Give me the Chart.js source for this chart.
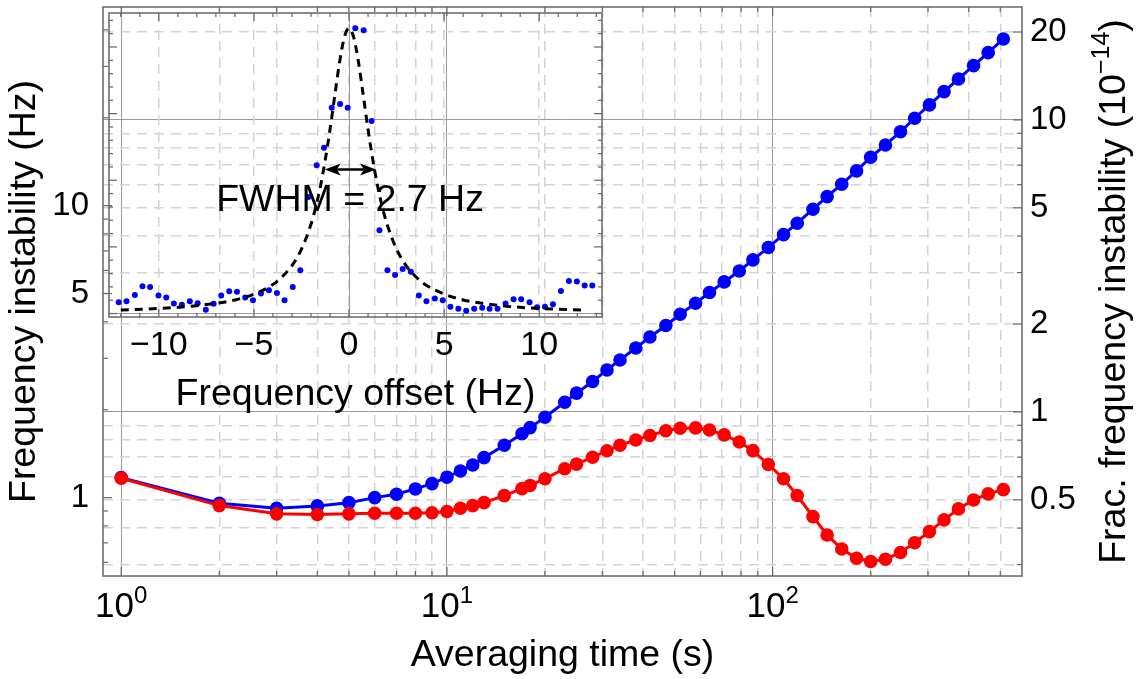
<!DOCTYPE html>
<html>
<head>
<meta charset="utf-8">
<script src="https://cdn.jsdelivr.net/npm/chart.js@4.4.0/dist/chart.umd.min.js"></script>
<style>
  html, body { margin: 0; padding: 0; background: #fff; }
  #wrap { position: relative; width: 1143px; height: 679px; }
  #main, #inset { position: absolute; left: 0; top: 0; }
</style>
</head>
<body>
<div id="wrap">
  <canvas id="main" width="1143" height="679"></canvas>
  <canvas id="inset" width="620" height="430"></canvas>
</div>
<script>
// ---- main plot: Allan deviation vs averaging time ----
const tau = [1, 2, 3, 4, 5, 6, 7, 8, 9, 10, 11, 12, 13, 15, 17, 18, 20, 23, 25, 28,
  31, 34, 38, 42, 47, 52, 58, 64, 71, 79, 87, 97, 108, 119, 133, 147, 163, 181, 200, 222,
  247, 273, 303, 336, 372, 414, 459, 511];
const blueDev = [1.171, 0.957, 0.920, 0.937, 0.961, 1.000, 1.027, 1.071, 1.117, 1.175,
  1.234, 1.294, 1.371, 1.512, 1.655, 1.737, 1.885, 2.122, 2.279, 2.500,
  2.737, 2.962, 3.256, 3.550, 3.888, 4.247, 4.632, 5.043, 5.480, 5.975,
  6.518, 7.193, 7.956, 8.706, 9.721, 10.74, 11.84, 13.15, 14.65, 16.14,
  17.92, 19.92, 22.13, 24.57, 27.16, 30.17, 33.42, 37.23];
const redDev = [1.165, 0.939, 0.880, 0.875, 0.880, 0.884, 0.884, 0.884, 0.888, 0.896,
  0.920, 0.939, 0.961, 1.016, 1.074, 1.101, 1.161, 1.256, 1.302, 1.375,
  1.447, 1.512, 1.576, 1.633, 1.695, 1.729, 1.733, 1.705, 1.640, 1.551,
  1.449, 1.299, 1.161, 1.017, 0.861, 0.745, 0.667, 0.620, 0.604, 0.615,
  0.649, 0.701, 0.765, 0.839, 0.915, 0.982, 1.030, 1.065];

// axis ticks (grid at every tick, labels only where listed)
const xGridTicks = [1, 2, 3, 4, 5, 6, 7, 8, 9, 10, 20, 30, 40, 50, 60, 70, 80, 90, 100, 200, 300, 400, 500];
const xLabelTicks = [1, 10, 100];
const hzTicks = [0.6, 0.7, 0.8, 0.9, 1, 2, 3, 4, 5, 6, 7, 8, 9, 10, 20, 30, 40];
const hzLabels = [1, 5, 10];
const fracTicks = [0.3, 0.4, 0.5, 0.6, 0.7, 0.8, 0.9, 1, 2, 3, 4, 5, 6, 7, 8, 9, 10, 20];
const fracLabels = [0.5, 1, 2, 5, 10, 20];

// ---- inset: beat note spectrum ----
const offsetHz = [-12.11, -11.70, -11.26, -10.86, -10.46, -10.02, -9.61, -9.21, -8.79, -8.37,
  -7.96, -7.53, -7.12, -6.72, -6.30, -5.89, -5.46, -5.05, -4.63, -4.21,
  -3.79, -3.39, -2.96, -2.56, -2.14, -1.70, -1.32, -0.91, -0.47, -0.07,
  0.33, 0.77, 1.19, 1.60, 2.02, 2.42, 2.82, 3.25, 3.67, 4.07,
  4.51, 4.93, 5.33, 5.75, 6.16, 6.58, 7.00, 7.39, 7.81, 8.23,
  8.65, 9.05, 9.49, 9.89, 10.30, 10.72, 11.14, 11.56, 11.98, 12.39, 12.79];
const power = [0.85, 0.93, 1.40, 2.05, 2.00, 1.35, 1.20, 0.75, 0.65, 0.93,
  0.78, 0.28, 0.73, 1.35, 1.68, 1.63, 1.20, 1.00, 1.50, 1.75,
  1.55, 1.00, 2.00, 3.25, 8.75, 11.13, 12.43, 15.45, 15.73, 15.45,
  21.40, 21.25, 14.45, 6.25, 3.25, 2.90, 3.35, 3.13, 1.35, 0.93,
  1.13, 1.00, 0.50, 0.35, 0.20, 0.35, 0.43, 0.35, 0.35, 0.75,
  1.08, 1.08, 0.85, 0.48, 0.50, 0.70, 1.70, 2.45, 2.40, 2.10, 2.10];
const fitOffsetHz = [-12, -10, -8, -6, -5, -4, -3.5, -3, -2.5, -2, -1.75, -1.5, -1.25, -1, -0.75,
  -0.5, -0.25, 0, 0.25, 0.5, 0.75, 1, 1.25, 1.5, 1.75, 2, 2.5, 3, 3.5, 4, 5, 6, 8, 10, 12.4];
const fitPower = [0.27, 0.38, 0.59, 1.02, 1.46, 2.18, 2.78, 3.60, 4.83, 6.70, 7.98, 9.57, 11.53, 13.81, 16.35,
  18.83, 20.70, 21.41, 20.70, 18.83, 16.35, 13.81, 11.53, 9.57, 7.98, 6.70, 4.83, 3.60, 2.78, 2.18,
  1.46, 1.02, 0.59, 0.38, 0.26];
const offsetLabels = [-10, -5, 0, 5, 10];
const fwhmSpan = [-1.28, 1.42];
const fwhmLevel = 10.8;

const FONT = '"Liberation Sans", Arial, Helvetica, sans-serif';
const TITLE_SIZE = 37.5;
const TICK_SIZE = 33;
const HZ_PER_FRAC = 1.966;          // 1e-14 fractional ↔ Hz
const X_RANGE = [0.879, 583];
const Y_RANGE = [0.539, 47.9];

function isDecade(v) {
  if (v === undefined || v === null) return false;
  const l = Math.log10(v);
  return Math.abs(l - Math.round(l)) < 1e-9;
}

function seg(ctx, x1, y1, x2, y2) {
  ctx.beginPath();
  ctx.moveTo(x1, y1);
  ctx.lineTo(x2, y2);
  ctx.stroke();
}

// fixed box sizes, no label overflow padding
function fixBox(size) {
  return s => {
    if (s.isHorizontal()) s.height = size; else s.width = size;
    s.paddingTop = 0; s.paddingBottom = 0; s.paddingLeft = 0; s.paddingRight = 0;
  };
}

const gridColor = c => isDecade(c.tick && c.tick.value) ? '#9a9a9a' : '#d4d4d4';
const gridWidth = c => isDecade(c.tick && c.tick.value) ? 1 : 1.5;
const gridDash = c => (c.tick && !isDecade(c.tick.value)) ? [10, 7] : [];

const mainFrame = {
  id: 'mainFrame',
  afterDraw(chart) {
    const { ctx, chartArea: a, scales: { x, y, y2 } } = chart;
    ctx.save();
    ctx.strokeStyle = '#666';
    ctx.lineWidth = 1.5;
    ctx.strokeRect(a.left, a.top, a.width, a.height);

    ctx.lineWidth = 1.2;
    xGridTicks.forEach(v => {
      const px = x.getPixelForValue(v);
      const len = isDecade(v) ? 9 : 5;
      seg(ctx, px, a.bottom, px, a.bottom - len);
      seg(ctx, px, a.top, px, a.top + len);
    });
    hzTicks.forEach(v => {
      const py = y.getPixelForValue(v);
      const len = hzLabels.includes(v) ? 9 : 5;
      seg(ctx, a.left, py, a.left + len, py);
    });
    fracTicks.forEach(v => {
      const py = y2.getPixelForValue(v);
      const len = fracLabels.includes(v) ? 9 : 5;
      seg(ctx, a.right, py, a.right - len, py);
    });

    // 10^n labels on the time axis
    ctx.fillStyle = '#000';
    ctx.textAlign = 'left';
    ctx.textBaseline = 'alphabetic';
    const big = '35px ' + FONT, small = '24px ' + FONT;
    xLabelTicks.forEach(v => {
      const px = x.getPixelForValue(v);
      const exp = String(Math.round(Math.log10(v)));
      ctx.font = big;
      const wb = ctx.measureText('10').width;
      ctx.font = small;
      const we = ctx.measureText(exp).width;
      const x0 = px - (wb + we) / 2;
      const base = a.bottom + 41;
      ctx.font = big;
      ctx.fillText('10', x0, base);
      ctx.font = small;
      ctx.fillText(exp, x0 + wb, base - 14);
    });

    // right axis title, reading bottom to top
    ctx.translate(chart.width - 28.5, (a.top + a.bottom) / 2);
    ctx.rotate(-Math.PI / 2);
    ctx.textBaseline = 'middle';
    const t1 = 'Frac. frequency instability (10', t2 = '\u221214', t3 = ')';
    ctx.font = TITLE_SIZE + 'px ' + FONT;
    const w1 = ctx.measureText(t1).width, w3 = ctx.measureText(t3).width;
    ctx.font = '25px ' + FONT;
    const w2 = ctx.measureText(t2).width;
    const cx = -(w1 + w2 + w3) / 2;
    ctx.font = TITLE_SIZE + 'px ' + FONT;
    ctx.fillText(t1, cx, 0);
    ctx.font = '25px ' + FONT;
    ctx.fillText(t2, cx + w1, -12);
    ctx.font = TITLE_SIZE + 'px ' + FONT;
    ctx.fillText(t3, cx + w1 + w2, 0);
    ctx.restore();
  }
};

new Chart(document.getElementById('main'), {
  type: 'scatter',
  data: {
    datasets: [
      {
        label: 'red',
        data: tau.map((t, i) => ({ x: t, y: redDev[i] })),
        showLine: true,
        borderColor: '#ff0000',
        backgroundColor: '#ff0000',
        borderWidth: 3,
        pointRadius: 6.8,
        pointBorderWidth: 0
      },
      {
        label: 'blue',
        data: tau.map((t, i) => ({ x: t, y: blueDev[i] })),
        showLine: true,
        borderColor: '#0000ff',
        backgroundColor: '#0000ff',
        borderWidth: 3,
        pointRadius: 6.8,
        pointBorderWidth: 0
      }
    ]
  },
  options: {
    responsive: false,
    animation: false,
    events: [],
    layout: { padding: { top: 7, left: 0, right: 0, bottom: 0 } },
    plugins: { legend: { display: false }, tooltip: { enabled: false } },
    scales: {
      x: {
        type: 'logarithmic',
        bounds: 'data',
        min: X_RANGE[0],
        max: X_RANGE[1],
        afterBuildTicks: s => { s.ticks = xGridTicks.map(v => ({ value: v })); },
        afterFit: fixBox(103),
        ticks: { display: false, autoSkip: false },
        grid: { drawTicks: false, color: gridColor, lineWidth: gridWidth },
        border: { display: false, dash: gridDash },
        title: {
          display: true,
          text: 'Averaging time (s)',
          color: '#000',
          font: { family: FONT, size: TITLE_SIZE },
          padding: { top: 0, bottom: 1 }
        }
      },
      y: {
        type: 'logarithmic',
        position: 'left',
        bounds: 'data',
        min: Y_RANGE[0],
        max: Y_RANGE[1],
        afterBuildTicks: s => { s.ticks = hzTicks.map(v => ({ value: v })); },
        afterFit: fixBox(103),
        ticks: {
          autoSkip: false,
          padding: 6,
          color: '#000',
          font: { family: FONT, size: TICK_SIZE },
          callback: v => hzLabels.includes(v) ? String(v) : ''
        },
        grid: { display: false },
        border: { display: false },
        title: {
          display: true,
          text: 'Frequency instability (Hz)',
          color: '#000',
          font: { family: FONT, size: TITLE_SIZE },
          padding: { top: 2, bottom: 0 }
        }
      },
      y2: {
        type: 'logarithmic',
        position: 'right',
        bounds: 'data',
        min: Y_RANGE[0] / HZ_PER_FRAC,
        max: Y_RANGE[1] / HZ_PER_FRAC,
        afterBuildTicks: s => { s.ticks = fracTicks.map(v => ({ value: v })); },
        afterFit: fixBox(121),
        ticks: {
          autoSkip: false,
          padding: 8,
          color: '#000',
          font: { family: FONT, size: TICK_SIZE },
          callback: v => fracLabels.includes(v) ? String(v) : ''
        },
        grid: { drawTicks: false, color: gridColor, lineWidth: gridWidth },
        border: { display: false, dash: gridDash }
      }
    }
  },
  plugins: [mainFrame]
});

// ---- inset chart ----
const insetFrame = {
  id: 'insetFrame',
  beforeDatasetsDraw(chart) {
    const { ctx, chartArea: a, scales: { y } } = chart;
    ctx.save();
    ctx.strokeStyle = '#9a9a9a';
    ctx.lineWidth = 1;
    const y0 = y.getPixelForValue(0);
    seg(ctx, a.left, y0, a.right, y0);
    ctx.restore();
  },
  afterDatasetsDraw(chart) {
    const { ctx, chartArea: a, scales: { x, y } } = chart;
    ctx.save();
    ctx.strokeStyle = '#666';
    ctx.lineWidth = 1.5;
    ctx.strokeRect(a.left, a.top, a.width, a.height);
    ctx.lineWidth = 1.2;
    for (let v = -12; v <= 13; v++) {
      const px = x.getPixelForValue(v);
      const len = v % 5 === 0 ? 8 : 4;
      seg(ctx, px, a.bottom, px, a.bottom - len);
      seg(ctx, px, a.top, px, a.top + len);
    }
    for (let v = 0; v <= 22; v++) {
      const py = y.getPixelForValue(v);
      const len = v % 5 === 0 ? 8 : 4;
      seg(ctx, a.left, py, a.left + len, py);
      seg(ctx, a.right, py, a.right - len, py);
    }

    // FWHM double arrow
    const ya = y.getPixelForValue(fwhmLevel);
    const xl = x.getPixelForValue(fwhmSpan[0]);
    const xr = x.getPixelForValue(fwhmSpan[1]);
    ctx.strokeStyle = '#000';
    ctx.fillStyle = '#000';
    ctx.lineWidth = 2.5;
    seg(ctx, xl + 10, ya, xr - 10, ya);
    [[xl, -1], [xr, 1]].forEach(([tip, dir]) => {
      ctx.beginPath();
      ctx.moveTo(tip, ya);
      ctx.lineTo(tip - dir * 16, ya - 6);
      ctx.lineTo(tip - dir * 12, ya);
      ctx.lineTo(tip - dir * 16, ya + 6);
      ctx.closePath();
      ctx.fill();
    });

    ctx.font = TITLE_SIZE + 'px ' + FONT;
    ctx.textAlign = 'center';
    ctx.textBaseline = 'alphabetic';
    ctx.fillText('FWHM = 2.7 Hz', x.getPixelForValue(0) + 1, ya + 41);
    ctx.restore();
  }
};

new Chart(document.getElementById('inset'), {
  type: 'scatter',
  data: {
    datasets: [
      {
        label: 'fit',
        data: fitOffsetHz.map((f, i) => ({ x: f, y: fitPower[i] })),
        showLine: true,
        borderColor: '#000',
        borderWidth: 3,
        borderDash: [8, 6],
        pointRadius: 0,
        cubicInterpolationMode: 'monotone'
      },
      {
        label: 'spectrum',
        data: offsetHz.map((f, i) => ({ x: f, y: power[i] })),
        backgroundColor: '#0000ff',
        pointRadius: 3,
        pointBorderWidth: 0
      }
    ]
  },
  options: {
    responsive: false,
    animation: false,
    events: [],
    layout: { padding: { left: 109, top: 13, right: 18, bottom: 0 } },
    plugins: { legend: { display: false }, tooltip: { enabled: false } },
    scales: {
      x: {
        type: 'linear',
        bounds: 'data',
        min: -12.62,
        max: 13.3,
        afterBuildTicks: s => { s.ticks = offsetLabels.map(v => ({ value: v })); },
        afterFit: fixBox(113),
        ticks: {
          autoSkip: false,
          maxRotation: 0,
          padding: 8,
          color: '#000',
          font: { family: FONT, size: TICK_SIZE + 1 },
          callback: v => v < 0 ? '\u2212' + Math.abs(v) : String(v)
        },
        grid: {
          drawTicks: false,
          color: c => c.tick && c.tick.value === 0 ? '#9a9a9a' : '#d4d4d4',
          lineWidth: c => c.tick && c.tick.value === 0 ? 1 : 1.5
        },
        border: { display: false, dash: c => (c.tick && c.tick.value !== 0) ? [10, 7] : [] },
        title: {
          display: true,
          text: 'Frequency offset (Hz)',
          color: '#000',
          font: { family: FONT, size: TITLE_SIZE },
          padding: { top: 0, bottom: 13 }
        }
      },
      y: { type: 'linear', display: false, bounds: 'data', min: -0.26, max: 22.55 }
    }
  },
  plugins: [insetFrame]
});
</script>
</body>
</html>
